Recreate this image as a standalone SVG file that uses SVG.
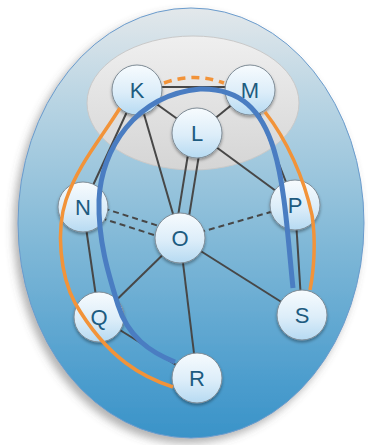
<svg xmlns="http://www.w3.org/2000/svg" width="368" height="445" viewBox="0 0 368 445">
<defs>
<linearGradient id="bg" x1="0" y1="0" x2="0" y2="1">
<stop offset="0" stop-color="#e3e8eb"/>
<stop offset="0.22" stop-color="#b8d4e3"/>
<stop offset="0.55" stop-color="#80b8d7"/>
<stop offset="0.88" stop-color="#4a9ccd"/>
<stop offset="1" stop-color="#3a93c8"/>
</linearGradient>
<linearGradient id="gray" x1="0" y1="0" x2="0" y2="1">
<stop offset="0" stop-color="#efefef"/>
<stop offset="1" stop-color="#d5d5d5"/>
</linearGradient>
<linearGradient id="nodeg" x1="0" y1="0" x2="0" y2="1">
<stop offset="0" stop-color="#f7fbfe"/>
<stop offset="0.55" stop-color="#dcedf9"/>
<stop offset="1" stop-color="#b6daf2"/>
</linearGradient>
<filter id="bigshadow" x="-10%" y="-10%" width="120%" height="120%">
<feDropShadow dx="-4" dy="5" stdDeviation="4" flood-color="#555" flood-opacity="0.45"/>
</filter>
<filter id="nshadow" x="-30%" y="-30%" width="160%" height="160%">
<feDropShadow dx="0" dy="2" stdDeviation="1.5" flood-color="#000" flood-opacity="0.35"/>
</filter>
</defs>
<style>
.edge{stroke:#474747;stroke-width:2;fill:none}
.dash{stroke-dasharray:6 4}
.node circle{fill:url(#nodeg);stroke:#7f8c96;stroke-width:1;filter:url(#nshadow)}
.node text{font-family:"Liberation Sans",Arial,sans-serif;font-size:22px;fill:#1d5b80;text-anchor:middle;dominant-baseline:central}
.blue{stroke:#4a7dc2;stroke-width:5;fill:none;stroke-linecap:butt}
.orange{stroke:#f29339;stroke-width:3.5;fill:none}
</style>
<g id="background">
<ellipse cx="191" cy="223" rx="173" ry="215" fill="url(#bg)" stroke="#6a9bcc" stroke-width="1" filter="url(#bigshadow)"/>
<ellipse cx="193" cy="103" rx="106" ry="67" fill="url(#gray)" stroke="#c9c9c9" stroke-width="1"/>
</g>
<g id="connectors">
<line class="edge" x1="137" y1="87" x2="250" y2="87"/>
<line class="edge" x1="137" y1="90" x2="197" y2="133"/>
<line class="edge" x1="250" y1="90" x2="197" y2="133"/>
<line class="edge" x1="137" y1="90" x2="83" y2="207"/>
<line class="edge" x1="137" y1="90" x2="180" y2="238"/>
<line class="edge" x1="191.6" y1="132.1" x2="174.6" y2="237.1"/>
<line class="edge" x1="202.4" y1="133.9" x2="185.4" y2="238.9"/>
<line class="edge" x1="197" y1="133" x2="295" y2="205"/>
<line class="edge" x1="250" y1="90" x2="295" y2="205"/>
<line class="edge dash" x1="84.5" y1="202.2" x2="181.5" y2="233.2"/>
<line class="edge dash" x1="81.5" y1="211.8" x2="178.5" y2="242.8"/>
<line class="edge dash" x1="180" y1="238" x2="295" y2="205"/>
<line class="edge" x1="83" y1="207" x2="99" y2="317"/>
<line class="edge" x1="180" y1="238" x2="99" y2="317"/>
<line class="edge" x1="180" y1="238" x2="197" y2="378"/>
<line class="edge" x1="180" y1="238" x2="302" y2="315"/>
<line class="edge" x1="99" y1="317" x2="197" y2="378"/>
<line class="edge" x1="295" y1="205" x2="302" y2="315"/>
</g>
<g id="node-K" class="node"><circle cx="137" cy="90" r="25"/><text x="137" y="90">K</text></g>
<g id="node-M" class="node"><circle cx="250" cy="90" r="25"/><text x="250" y="90">M</text></g>
<g id="node-L" class="node"><circle cx="197" cy="133" r="25"/><text x="197" y="133">L</text></g>
<g id="node-N" class="node"><circle cx="83" cy="207" r="25"/><text x="83" y="207">N</text></g>
<g id="node-P" class="node"><circle cx="295" cy="205" r="25"/><text x="295" y="205">P</text></g>
<g id="node-O" class="node"><circle cx="180" cy="238" r="25"/><text x="180" y="238">O</text></g>
<g id="node-Q" class="node"><circle cx="99" cy="317" r="25"/><text x="99" y="317">Q</text></g>
<g id="node-S" class="node"><circle cx="302" cy="315" r="25"/><text x="302" y="315">S</text></g>
<g id="node-R" class="node"><circle cx="197" cy="378" r="25"/><text x="197" y="378">R</text></g>
<g id="routes">
<path class="orange" d="M173,387 C145,378 108,360 75,303 C60,275 56,230 66,200 C78,165 100,140 120,108"/>
<path class="orange" stroke-dasharray="8 6" d="M164,83 Q194,72 224,83"/>
<path class="orange" d="M265,112 C287,140 304,178 312,215 C316,240 314,270 310,290"/>
<path class="blue" d="M175,362 C150,352 128,337 118,305 S98,240 99,200 C101,150 135,95 200,89 C240,88 262,110 274,150 C285,186 288,240 293,288"/>
</g>
</svg>
